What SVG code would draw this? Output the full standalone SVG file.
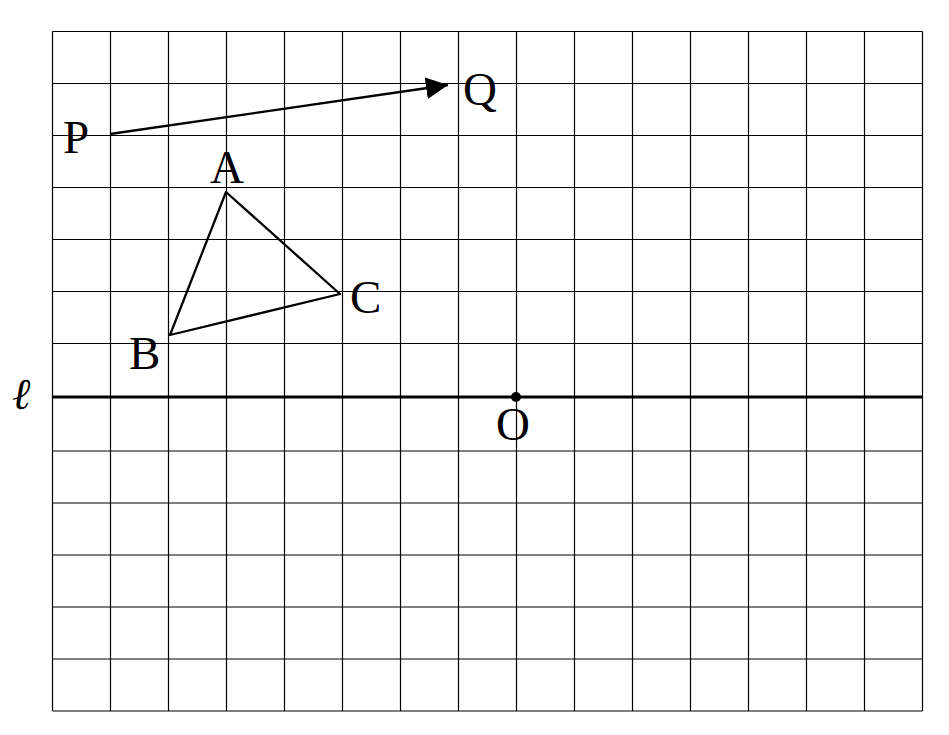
<svg xmlns="http://www.w3.org/2000/svg" width="949" height="735" viewBox="0 0 949 735">
<style>
.g{stroke:#000;stroke-width:1.2;fill:none}
.t{font-family:"Liberation Serif","Times New Roman",serif;font-size:47px;fill:#000}
.s{stroke:#000;stroke-width:2.3;fill:none;stroke-linejoin:round}
</style>
<defs>
<marker id="ah" markerWidth="24" markerHeight="24" refX="22" refY="11" orient="auto" markerUnits="userSpaceOnUse">
<path d="M0,0 L22,11 L0,22 Z" fill="#000"/>
</marker>
</defs>
<rect width="949" height="735" fill="#fff"/>
<g id="grid" class="g">
<path d="M52.5,31.5V711M110.5,31.5V711M168.5,31.5V711M226.5,31.5V711M284.5,31.5V711M342.5,31.5V711M400.5,31.5V711M458.5,31.5V711M516.5,31.5V711M574.5,31.5V711M632.5,31.5V711M690.5,31.5V711M748.5,31.5V711M806.5,31.5V711M864.5,31.5V711M922.5,31.5V711"/>
<path d="M52.5,31.5H922.5M52.5,83.5H922.5M52.5,135.5H922.5M52.5,187.5H922.5M52.5,239.5H922.5M52.5,291.5H922.5M52.5,343.5H922.5M52.5,451H922.5M52.5,503H922.5M52.5,555H922.5M52.5,607H922.5M52.5,659H922.5M52.5,711H922.5"/>
</g>
<g id="line-l">
<line x1="52" y1="397" x2="922" y2="397" stroke="#000" stroke-width="2.8"/>
<text x="12" y="409" style="font-family:'DejaVu Serif',serif;font-style:italic;font-size:44px">ℓ</text>
</g>
<g id="connectors">
<line x1="110" y1="134" x2="448" y2="85" class="s" marker-end="url(#ah)"/>
</g>
<g id="triangle">
<path d="M226,192 L170,335 L340,294 Z" class="s"/>
</g>
<g id="point-O">
<circle cx="516" cy="397" r="5" fill="#000"/>
<text class="t" x="496" y="440">O</text>
</g>
<g id="labels">
<text class="t" x="63" y="153">P</text>
<text class="t" x="463" y="105">Q</text>
<text class="t" x="210" y="183">A</text>
<text class="t" x="129" y="369">B</text>
<text class="t" x="350" y="313">C</text>
</g>
</svg>
